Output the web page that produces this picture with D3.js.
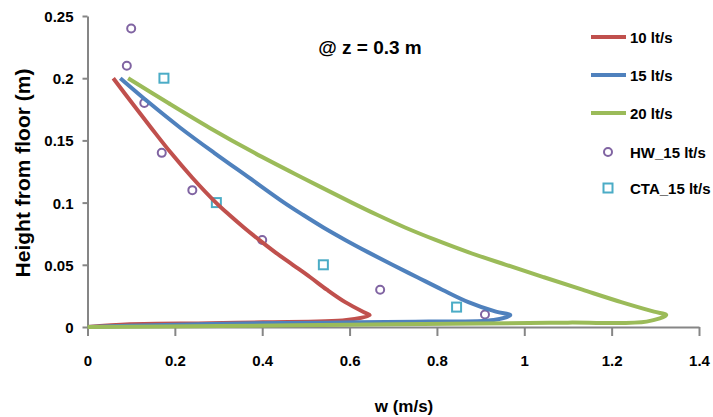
<!DOCTYPE html>
<html>
<head>
<meta charset="utf-8">
<script src="https://cdn.jsdelivr.net/npm/d3@7/dist/d3.min.js"></script>
<style>
  html, body { margin: 0; padding: 0; background: #fff; }
  svg { display: block; }
  text { font-family: "Liberation Sans", Arial, sans-serif; font-weight: bold; fill: #000; }
</style>
</head>
<body>
<svg id="chart" width="713" height="417"></svg>
<script>
// Vertical profiles of w at z = 0.3 m: heights (m) and velocities (m/s)
const heights10 = [0, 0.0022, 0.003, 0.0038, 0.0056, 0.0096, 0.011, 0.02, 0.03, 0.04, 0.05, 0.06, 0.07, 0.08, 0.09, 0.10, 0.12, 0.14, 0.16, 0.18, 0.20];
const w10       = [0, 0.097, 0.28, 0.402, 0.593, 0.646, 0.638, 0.59, 0.548, 0.51, 0.47, 0.43, 0.393, 0.358, 0.325, 0.294, 0.240, 0.191, 0.146, 0.102, 0.059];

const heights15 = [0, 0.0015, 0.0028, 0.0035, 0.0043, 0.0056, 0.0096, 0.0123, 0.02, 0.03, 0.04, 0.05, 0.06, 0.07, 0.08, 0.09, 0.10, 0.12, 0.14, 0.16, 0.18, 0.20];
const w15       = [0, 0.15, 0.35, 0.55, 0.75, 0.93, 0.968, 0.935, 0.872, 0.812, 0.755, 0.698, 0.643, 0.59, 0.54, 0.494, 0.45, 0.37, 0.29, 0.213, 0.142, 0.075];

const heights20 = [0, 0.0008, 0.0018, 0.0028, 0.0035, 0.0043, 0.0096, 0.0123, 0.02, 0.03, 0.04, 0.05, 0.06, 0.07, 0.08, 0.09, 0.10, 0.12, 0.14, 0.16, 0.18, 0.20];
const w20       = [0, 0.3, 0.6, 0.9, 1.1, 1.28, 1.325, 1.297, 1.222, 1.133, 1.045, 0.958, 0.873, 0.797, 0.727, 0.664, 0.605, 0.492, 0.382, 0.28, 0.185, 0.093];

// Measured points at 15 lt/s
const hwW = [0.10, 0.09, 0.13, 0.17, 0.24, 0.40, 0.67, 0.91];
const hwH = [0.24, 0.21, 0.18, 0.14, 0.11, 0.07, 0.03, 0.01];
const ctaW = [0.175, 0.295, 0.54, 0.845];
const ctaH = [0.20, 0.10, 0.05, 0.016];

const xTicks = [0, 0.2, 0.4, 0.6, 0.8, 1, 1.2, 1.4];
const xTickLabels = ["0", "0.2", "0.4", "0.6", "0.8", "1", "1.2", "1.4"];
const yTicks = [0, 0.05, 0.1, 0.15, 0.2, 0.25];
const yTickLabels = ["0", "0.05", "0.1", "0.15", "0.2", "0.25"];

const seriesNames = ["10 lt/s", "15 lt/s", "20 lt/s", "HW_15 lt/s", "CTA_15 lt/s"];
const seriesColors = ["#C0504D", "#4F81BD", "#9BBB59", "#8064A2", "#4BACC6"];

const svg = d3.select("#chart");
const x = d3.scaleLinear().domain([0, 1.4]).range([87.5, 699]);
const y = d3.scaleLinear().domain([0, 0.25]).range([327, 16]);

// axes
const xAxis = d3.axisBottom(x).tickValues(xTicks)
  .tickFormat((d, i) => xTickLabels[i]).tickSize(9).tickSizeOuter(0).tickPadding(19);
const yAxis = d3.axisLeft(y).tickValues(yTicks)
  .tickFormat((d, i) => yTickLabels[i]).tickSize(5).tickSizeOuter(0).tickPadding(9);

const gx = svg.append("g").attr("transform", "translate(0,327)").call(xAxis);
const gy = svg.append("g").attr("transform", "translate(87.5,0)").call(yAxis);
[gx, gy].forEach(g => {
  g.select(".domain").attr("stroke", "#868686").attr("stroke-width", 2);
  g.selectAll(".tick line").attr("stroke", "#868686").attr("stroke-width", 2);
  g.selectAll(".tick text").style("font-size", "15px").style("font-weight", "bold")
    .style("font-family", "'Liberation Sans', Arial, sans-serif").attr("fill", "#000");
});
gy.selectAll(".tick text").attr("dy", "0.36em");

// markers (drawn under the curves)
const markers = svg.append("g");
markers.selectAll("circle.hw").data(hwW).join("circle")
  .attr("class", "hw")
  .attr("cx", d => x(d)).attr("cy", (d, i) => y(hwH[i])).attr("r", 4)
  .attr("fill", "none").attr("stroke", seriesColors[3]).attr("stroke-width", 2);
markers.selectAll("rect.cta").data(ctaW).join("rect")
  .attr("class", "cta")
  .attr("x", d => x(d) - 4.5).attr("y", (d, i) => y(ctaH[i]) - 4.5)
  .attr("width", 9).attr("height", 9)
  .attr("fill", "none").attr("stroke", seriesColors[4]).attr("stroke-width", 2);

// profile curves
const line = d3.line().x(d => x(d[0])).y(d => y(d[1])).curve(d3.curveCatmullRom.alpha(0.5));
const profiles = [[w10, heights10], [w15, heights15], [w20, heights20]];
profiles.forEach(([ws, hs], k) => {
  svg.append("path")
    .datum(ws.map((w, i) => [w, hs[i]]))
    .attr("d", line)
    .attr("fill", "none")
    .attr("stroke", seriesColors[k])
    .attr("stroke-width", 4)
    .attr("stroke-linejoin", "round");
});

// annotation
svg.append("text").attr("x", 370).attr("y", 54).attr("text-anchor", "middle")
  .style("font-size", "19px").text("@ z = 0.3 m");

// axis titles
svg.append("text").attr("x", 404).attr("y", 412).attr("text-anchor", "middle")
  .style("font-size", "17px").text("w (m/s)");
svg.append("text").attr("transform", "translate(30,173) rotate(-90)")
  .attr("text-anchor", "middle").style("font-size", "21px")
  .text("Height from floor (m)");

// legend
const legend = svg.append("g");
const legendY = [37, 75, 113, 152, 188];
seriesNames.forEach((name, i) => {
  const ly = legendY[i];
  if (i < 3) {
    legend.append("line").attr("x1", 591).attr("x2", 626).attr("y1", ly).attr("y2", ly)
      .attr("stroke", seriesColors[i]).attr("stroke-width", 4);
  } else if (i === 3) {
    legend.append("circle").attr("cx", 608).attr("cy", ly).attr("r", 4)
      .attr("fill", "none").attr("stroke", seriesColors[i]).attr("stroke-width", 2);
  } else {
    legend.append("rect").attr("x", 603.5).attr("y", ly - 4.5).attr("width", 9).attr("height", 9)
      .attr("fill", "none").attr("stroke", seriesColors[i]).attr("stroke-width", 2);
  }
  legend.append("text").attr("x", 630).attr("y", ly + 5.5)
    .style("font-size", "15px").text(name);
});
</script>
</body>
</html>
